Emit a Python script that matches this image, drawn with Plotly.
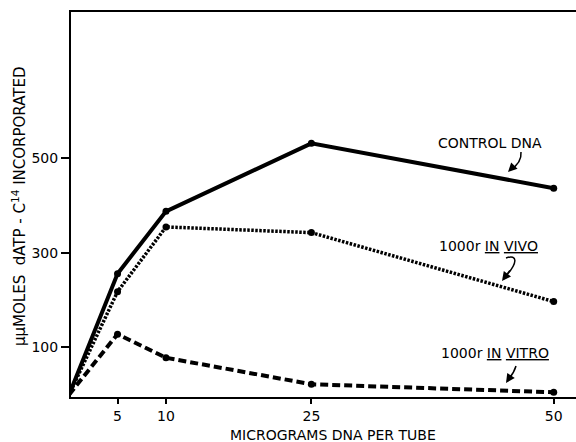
import plotly.graph_objects as go

# ---- data ----
micrograms = [0, 5, 10, 25, 50]
control_dna = [0, 256, 388, 532, 437]
in_vivo = [0, 218, 355, 343, 197]
in_vitro = [0, 128, 78, 22, 5]

x_ticks = [5, 10, 25, 50]
y_ticks = [100, 300, 500]

W, H = 576, 442
ML, MR, MT, MB = 71, 0, 12, 45
PW, PH = W - ML - MR, H - MT - MB
XR = [0.2, 52.3]
YR = [-5, 810]


def px(xp, yp):
    return (xp - ML) / PW, 1 - (yp - MT) / PH


FONT = "DejaVu Sans"
FS = 14
fig = go.Figure()

fig.add_trace(go.Scatter(x=micrograms, y=control_dna, mode="lines+markers",
                         line=dict(color="black", width=4),
                         marker=dict(size=7, color="black"), cliponaxis=False))
fig.add_trace(go.Scatter(x=micrograms, y=in_vivo, mode="lines+markers",
                         line=dict(color="black", width=3.5, dash="2.5px,1.5px"),
                         marker=dict(size=7, color="black"), cliponaxis=False))
fig.add_trace(go.Scatter(x=micrograms, y=in_vitro, mode="lines+markers",
                         line=dict(color="black", width=4, dash="8px,4px"),
                         marker=dict(size=7, color="black"), cliponaxis=False))

ann = []
shapes = []
U = "<span style='text-decoration:underline'>%s</span>"
labels = [
    ("CONTROL DNA", 490, 143),
    ("1000r " + U % "IN" + " " + U % "VIVO", 488, 246),
    ("1000r " + U % "IN" + " " + U % "VITRO", 495, 353),
]
for t, xp, yp in labels:
    xx, yy = px(xp, yp)
    ann.append(dict(text=t, x=xx, y=yy, xref="paper", yref="paper", showarrow=False,
                    font=dict(family=FONT, size=FS, color="black"),
                    xanchor="center", yanchor="middle"))

# curved arrows: path in paper coords + arrowhead
curves = [
    ([(521, 152), (522, 163), (510, 170)], (508, 172)),
    ([(506, 258), (518, 254), (518, 263), (505, 277)], (502, 281)),
    ([(516, 366), (514, 373), (508, 380)], (506, 383)),
]
for pts, tip in curves:
    p = [px(a, b) for a, b in pts]
    if len(p) == 3:
        path = f"M {p[0][0]},{p[0][1]} Q {p[1][0]},{p[1][1]} {p[2][0]},{p[2][1]}"
    else:
        path = f"M {p[0][0]},{p[0][1]} C {p[1][0]},{p[1][1]} {p[2][0]},{p[2][1]} {p[3][0]},{p[3][1]}"
    shapes.append(dict(type="path", path=path, xref="paper", yref="paper",
                       line=dict(color="black", width=1.5)))
    tx, ty = px(*tip)
    last = pts[-1]
    ann.append(dict(text="", x=tx, y=ty, xref="paper", yref="paper", showarrow=True,
                    ax=(last[0] - tip[0]) * 3, ay=(last[1] - tip[1]) * 3,
                    arrowhead=2, arrowsize=1.2, arrowwidth=1.5, arrowcolor="black",
                    standoff=0))

# axis titles
yx, yy = px(19, 207)
ann.append(dict(text="μμMOLES  dATP - C<sup>14</sup> INCORPORATED", x=yx, y=yy,
                xref="paper", yref="paper", showarrow=False, textangle=-90,
                font=dict(family=FONT, size=15, color="black"),
                xanchor="center", yanchor="middle"))
tx, ty = px(333, 435)
ann.append(dict(text="MICROGRAMS DNA PER TUBE", x=tx, y=ty,
                xref="paper", yref="paper", showarrow=False,
                font=dict(family=FONT, size=FS, color="black"),
                xanchor="center", yanchor="middle"))

fig.update_layout(
    width=W, height=H,
    margin=dict(l=ML, r=MR, t=MT, b=MB, pad=0),
    paper_bgcolor="white", plot_bgcolor="white",
    showlegend=False,
    annotations=ann, shapes=shapes,
    xaxis=dict(range=XR, tickvals=x_ticks, ticktext=[str(v) for v in x_ticks],
               showgrid=False, zeroline=False, showline=True, mirror=True,
               linecolor="black", linewidth=2, ticks="outside", ticklen=5,
               tickwidth=2, tickcolor="black",
               tickfont=dict(family=FONT, size=FS, color="black")),
    yaxis=dict(range=YR, tickvals=y_ticks, ticktext=[str(v) for v in y_ticks],
               showgrid=False, zeroline=False, showline=True, mirror=False,
               linecolor="black", linewidth=2, ticks="outside", ticklen=8,
               tickwidth=2, tickcolor="black",
               tickfont=dict(family=FONT, size=FS, color="black")),
)

fig.write_html("out.html")
